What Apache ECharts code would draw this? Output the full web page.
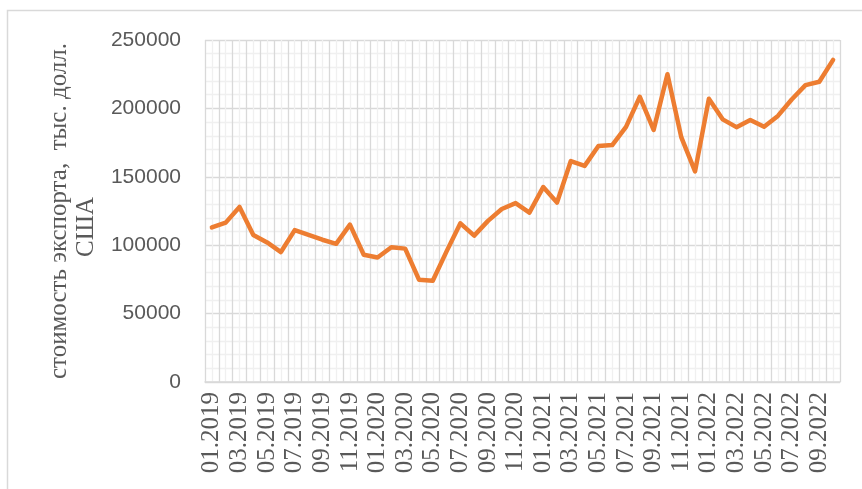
<!DOCTYPE html>
<html>
<head>
<meta charset="utf-8">
<script src="https://cdn.jsdelivr.net/npm/echarts@6/dist/echarts.min.js"></script>
<style>
  html, body { margin: 0; padding: 0; background: #fff; }
  #chart { width: 862px; height: 489px; }
</style>
</head>
<body>
<div id="chart"></div>
<script>
// Месяцы
const months = [
    '01.2019', '02.2019', '03.2019', '04.2019', '05.2019', '06.2019', '07.2019', '08.2019', '09.2019', '10.2019', '11.2019', '12.2019',
    '01.2020', '02.2020', '03.2020', '04.2020', '05.2020', '06.2020', '07.2020', '08.2020', '09.2020', '10.2020', '11.2020', '12.2020',
    '01.2021', '02.2021', '03.2021', '04.2021', '05.2021', '06.2021', '07.2021', '08.2021', '09.2021', '10.2021', '11.2021', '12.2021',
    '01.2022', '02.2022', '03.2022', '04.2022', '05.2022', '06.2022', '07.2022', '08.2022', '09.2022', '10.2022'
];

// Стоимость экспорта, тыс. долл. США
const exportValue = [
    113000, 116500, 128000, 107500, 102000, 95000, 111000, 107500, 104000, 101000, 115000, 93000,
    91000, 98500, 97500, 74800, 74000, 95500, 116000, 107000, 117800, 126500, 130800, 123800,
    142500, 131200, 161500, 158000, 172500, 173200, 186500, 208500, 184300, 225000, 179000, 154000,
    207000, 192000, 186300, 191500, 186600, 194500, 206500, 217000, 219500, 235500
];

const yTicks = { min: 0, max: 250000, step: 50000 };

window.onload = function () {
    const chart = echarts.init(document.getElementById('chart'));
    const gridMajor = '#d9d9d9';
    const gridMinor = '#f0f0f0';
    const textColor = '#595959';

    chart.setOption({
        animation: false,
        graphic: [
            {
                type: 'rect',
                shape: { x: 7.5, y: 10.5, width: 900, height: 600 },
                style: { fill: 'none', stroke: '#d9d9d9', lineWidth: 1.5 },
                z: -10
            }
        ],
        grid: { left: 205, right: 22, top: 40, bottom: 107 },
        xAxis: [
            {
                type: 'category',
                data: months,
                boundaryGap: true,
                axisLine: { lineStyle: { color: gridMajor, width: 1.5 } },
                axisTick: { show: false },
                axisLabel: {
                    interval: 1,
                    rotate: 90,
                    margin: 10,
                    color: textColor,
                    fontFamily: 'Liberation Serif',
                    fontSize: 25
                },
                splitLine: { show: true, interval: 0, lineStyle: { color: gridMajor, width: 1.3 } },
                z: 3
            },
            {
                // промежуточные вертикальные линии сетки
                type: 'value',
                min: 0,
                max: months.length,
                interval: 1,
                position: 'top',
                axisLine: { show: false },
                axisTick: { show: false },
                axisLabel: { show: false },
                splitLine: { show: false },
                minorSplitLine: { show: true, lineStyle: { color: gridMinor, width: 1.3 } },
                minorTick: { show: false, splitNumber: 2 },
                z: 1
            }
        ],
        yAxis: {
            type: 'value',
            min: yTicks.min,
            max: yTicks.max,
            interval: yTicks.step,
            name: '{a|стоимость экспорта,  тыс. долл.}\n{b|США}',
            nameLocation: 'middle',
            nameRotate: 90,
            nameGap: 102,
            nameTextStyle: {
                color: textColor,
                fontFamily: 'Liberation Serif',
                fontSize: 25,
                lineHeight: 27,
                rich: {
                    a: { color: textColor, fontFamily: 'Liberation Serif', fontSize: 25, lineHeight: 27 },
                    b: { color: textColor, fontFamily: 'Liberation Serif', fontSize: 25, lineHeight: 27, padding: [0, 32, 0, 0] }
                }
            },
            axisLine: { show: false },
            axisTick: { show: false },
            axisLabel: {
                margin: 24,
                color: textColor,
                fontFamily: 'Liberation Sans',
                fontSize: 21,
                formatter: function (v) { return String(v); }
            },
            splitLine: { lineStyle: { color: gridMajor, width: 1.3 } },
            minorTick: { show: false, splitNumber: 5 },
            minorSplitLine: { show: true, lineStyle: { color: gridMinor, width: 1.3 } }
        },
        series: [
            {
                type: 'line',
                data: exportValue,
                xAxisIndex: 0,
                symbol: 'none',
                lineStyle: { color: '#ED7D31', width: 4.5, join: 'round', cap: 'round' },
                z: 5
            }
        ]
    });
};
</script>
</body>
</html>
